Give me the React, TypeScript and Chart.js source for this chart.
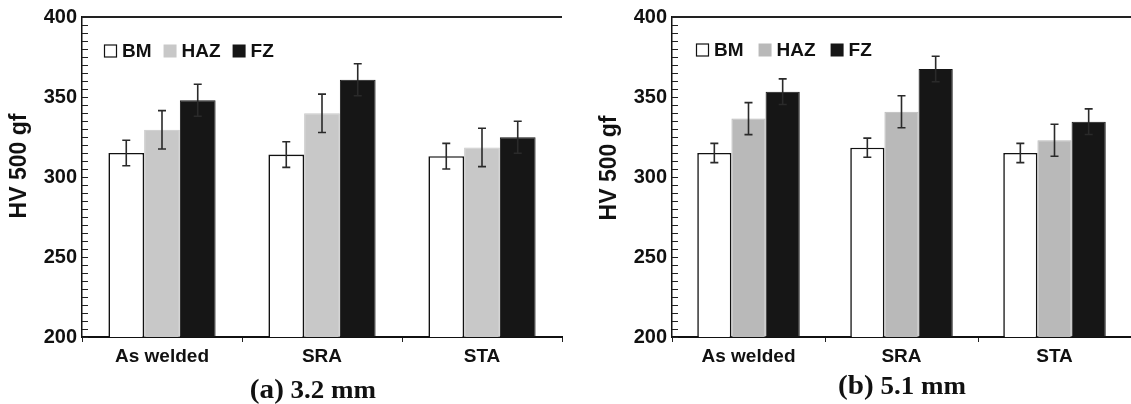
import React, { useEffect, useRef } from "react";
import { Chart, registerables } from "chart.js";
Chart.register(...registerables);

const categories = ["As welded", "SRA", "STA"];
const seriesLabels = ["BM", "HAZ", "FZ"];
const yMin = 200;
const yMax = 400;
const yStep = 50;
const yMinorStep = 5;
const yTitle = "HV 500 gf";

// panel (a) 3.2 mm
const bmA = [315, 314, 313];
const hazA = [329.5, 339.8, 318.5];
const fzA = [348, 360.8, 324.8];
const bmErrA = [8, 8, 8];
const hazErrA = [12, 12, 12];
const fzErrA = [10, 10, 10];

// panel (b) 5.1 mm
const bmB = [315, 318.3, 315];
const hazB = [336.5, 340.8, 323];
const fzB = [353.3, 367.5, 334.6];
const bmErrB = [6, 6, 6];
const hazErrB = [10, 10, 10];
const fzErrB = [8, 8, 8];

const SANS = '"Liberation Sans", Arial, Helvetica, sans-serif';
const SERIF = '"Liberation Serif", "Times New Roman", serif';

type PanelCfg = {
  values: number[][];
  errors: number[][];
  hazColor: string;
  legendStart: number;
  legendY: number;
  legendGap: number;
  titleX: number;
  titleY: number;
  rightPad: number;
};

function makePlugin(p: PanelCfg) {
  return {
    id: "panelExtras",
    afterDatasetsDraw(chart: any) {
      const ctx = chart.ctx as CanvasRenderingContext2D;
      const y = chart.scales.y;
      const area = chart.chartArea;
      ctx.save();
      // top frame line
      ctx.strokeStyle = "#222";
      ctx.lineWidth = 2;
      ctx.beginPath();
      ctx.moveTo(area.left, area.top);
      ctx.lineTo(area.right, area.top);
      ctx.stroke();
      // inward minor ticks
      ctx.lineWidth = 1;
      for (let v = yMin; v <= yMax; v += yMinorStep) {
        const py = Math.round(y.getPixelForValue(v)) + 0.5;
        ctx.beginPath();
        ctx.moveTo(area.left, py);
        ctx.lineTo(area.left + 6, py);
        ctx.stroke();
      }
      // error bars
      ctx.strokeStyle = "#2a2a2a";
      ctx.lineWidth = 1.6;
      chart.data.datasets.forEach((ds: any, i: number) => {
        const meta = chart.getDatasetMeta(i);
        meta.data.forEach((el: any, j: number) => {
          const v = ds.data[j];
          const e = p.errors[i][j];
          const x = el.x;
          const t = y.getPixelForValue(v + e);
          const b = y.getPixelForValue(v - e);
          ctx.beginPath();
          ctx.moveTo(x, t);
          ctx.lineTo(x, b);
          ctx.moveTo(x - 4, t);
          ctx.lineTo(x + 4, t);
          ctx.moveTo(x - 4, b);
          ctx.lineTo(x + 4, b);
          ctx.stroke();
        });
      });
      // legend
      ctx.font = `bold 19px ${SANS}`;
      ctx.textBaseline = "middle";
      ctx.textAlign = "left";
      let lx = area.left + p.legendStart;
      const ly = p.legendY;
      chart.data.datasets.forEach((ds: any, i: number) => {
        const box = 13;
        ctx.fillStyle = ds.backgroundColor;
        ctx.fillRect(lx, ly - box / 2, box, box);
        if (i === 0) {
          ctx.strokeStyle = "#111";
          ctx.lineWidth = 1.2;
          ctx.strokeRect(lx + 0.5, ly - box / 2 + 0.5, box - 1, box - 1);
        }
        lx += box + 5;
        ctx.fillStyle = "#111";
        ctx.fillText(ds.label, lx, ly + 1);
        lx += ctx.measureText(ds.label).width + p.legendGap;
      });
      // y title
      ctx.save();
      ctx.translate(p.titleX, p.titleY);
      ctx.rotate(-Math.PI / 2);
      ctx.textAlign = "center";
      ctx.textBaseline = "middle";
      ctx.font = `bold 23px ${SANS}`;
      ctx.fillStyle = "#111";
      ctx.fillText(yTitle, 0, 0);
      ctx.restore();
      ctx.restore();
    },
  };
}

function Panel({ cfg, left, width }: { cfg: PanelCfg; left: number; width: number }) {
  const ref = useRef<HTMLCanvasElement | null>(null);
  useEffect(() => {
    if (!ref.current) return;
    const colors = ["#ffffff", cfg.hazColor, "#161616"];
    const borders = ["#111111", cfg.hazColor, "#161616"];
    const chart = new Chart(ref.current, {
      type: "bar",
      data: {
        labels: categories,
        datasets: seriesLabels.map((label, i) => ({
          label,
          data: cfg.values[i],
          backgroundColor: colors[i],
          borderColor: borders[i],
          borderWidth: i === 0 ? 1.6 : 1,
          barPercentage: 1,
          categoryPercentage: 0.67,
        })),
      },
      options: {
        responsive: false,
        animation: false,
        events: [],
        layout: { padding: { top: 17, right: cfg.rightPad, left: 0, bottom: 0 } },
        plugins: { legend: { display: false }, tooltip: { enabled: false } },
        scales: {
          x: {
            grid: {
              offset: true,
              drawOnChartArea: false,
              drawTicks: true,
              tickLength: 5,
              lineWidth: 1,
              color: (c: any) => (c.index === categories.length ? "rgba(0,0,0,0)" : "#222"),
            },
            border: { display: true, color: "#111", width: 2 },
            ticks: {
              color: "#111",
              font: { family: SANS, size: 19, weight: "bold" },
              padding: 3,
              maxRotation: 0,
              autoSkip: false,
            },
            afterFit: (s: any) => {
              s.height = 67;
            },
          },
          y: {
            min: yMin,
            max: yMax,
            ticks: {
              stepSize: yStep,
              color: "#111",
              font: { family: SANS, size: 20, weight: "bold" },
              padding: 5,
            },
            grid: { display: false, drawTicks: false },
            border: { display: true, color: "#111", width: 1.5 },
            afterFit: (s: any) => {
              s.width = 82;
            },
          },
        },
      },
      plugins: [makePlugin(cfg)],
    } as any);
    return () => chart.destroy();
  }, []);
  return (
    <canvas
      ref={ref}
      width={width}
      height={404}
      style={{ position: "absolute", left, top: 0, width, height: 404 }}
    />
  );
}

const cfgA: PanelCfg = {
  values: [bmA, hazA, fzA],
  errors: [bmErrA, hazErrA, fzErrA],
  hazColor: "#c8c8c8",
  legendStart: 22,
  legendY: 51,
  legendGap: 12,
  titleX: 20,
  titleY: 166,
  rightPad: 8,
};

const cfgB: PanelCfg = {
  values: [bmB, hazB, fzB],
  errors: [bmErrB, hazErrB, fzErrB],
  hazColor: "#b9b9b9",
  legendStart: 24,
  legendY: 50,
  legendGap: 15,
  titleX: 20,
  titleY: 168,
  rightPad: 0,
};

function Caption({ letter, text, center, top }: { letter: string; text: string; center: number; top: number }) {
  return (
    <div
      style={{
        position: "absolute",
        left: center - 150,
        width: 300,
        top,
        textAlign: "center",
        fontFamily: SERIF,
        fontWeight: "bold",
        fontSize: 25,
        lineHeight: "25px",
        color: "#111",
        transform: "scaleX(1.08)",
        whiteSpace: "nowrap",
      }}
    >
      <span style={{ fontSize: 27 }}>{letter}</span> {text}
    </div>
  );
}

export default function App() {
  useEffect(() => {
    document.body.style.margin = "0";
  }, []);
  return (
    <div style={{ position: "fixed", left: 0, top: 0, width: 1131, height: 404, background: "#fff", overflow: "hidden" }}>
      <Panel cfg={cfgA} left={0} width={570} />
      <Panel cfg={cfgB} left={590} width={541} />
      <Caption letter="(a)" text="3.2 mm" center={313} top={377} />
      <Caption letter="(b)" text="5.1 mm" center={902} top={373} />
    </div>
  );
}
